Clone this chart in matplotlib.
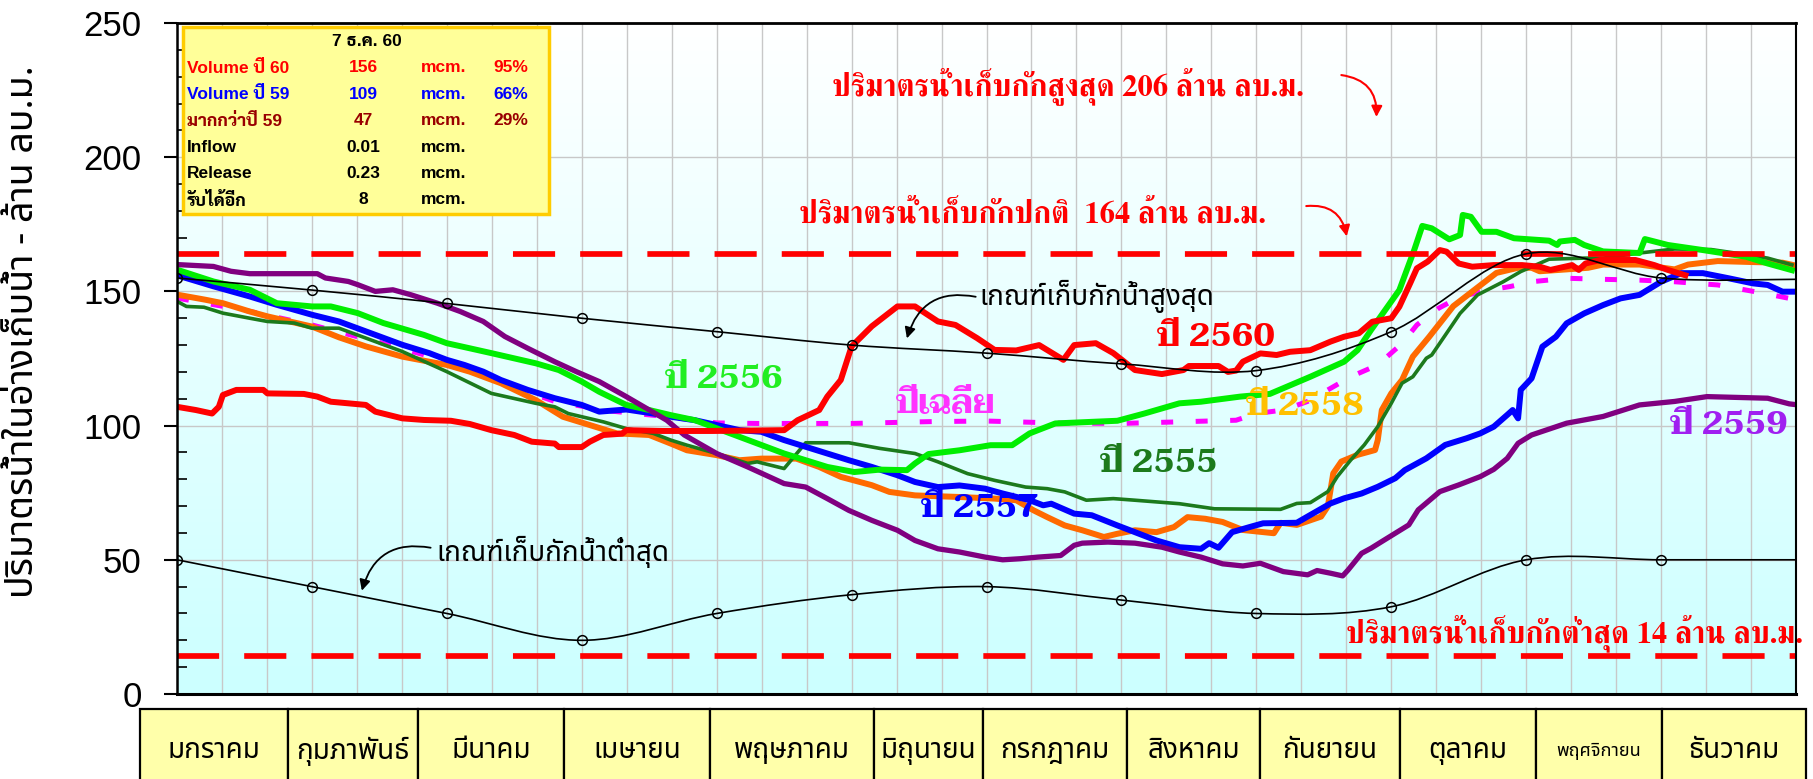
import numpy as np
import matplotlib
matplotlib.use("Agg")
import matplotlib.pyplot as plt
from matplotlib.path import Path
from matplotlib.patches import PathPatch, Rectangle
from matplotlib.colors import LinearSegmentedColormap
from matplotlib.ticker import MultipleLocator

plt.rcParams['font.family'] = ['Liberation Sans', 'Noto Sans Thai']

# x positions are in months from 1 Jan (0) to 31 Dec (12)
months = ['มกราคม', 'กุมภาพันธ์', 'มีนาคม', 'เมษายน', 'พฤษภาคม', 'มิถุนายน',
          'กรกฎาคม', 'สิงหาคม', 'กันยายน', 'ตุลาคม', 'พฤศจิกายน', 'ธันวาคม']

rule_x = list(range(13))
upper_rule = [155, 150.5, 145.5, 140, 135, 130, 127, 123, 120.5, 135, 164, 155, 154.5]
lower_rule = [50, 40, 30, 20, 30, 37, 40, 35, 30, 32.5, 50, 50, 50]

normal_level = 164
min_level = 14

x_2560 = [0, 0.14, 0.26, 0.31, 0.34, 0.44, 0.64, 0.67, 0.94, 1.04, 1.14, 1.4, 1.47, 1.67,
          1.83, 2.03, 2.17, 2.33, 2.5, 2.63, 2.8, 2.83, 3.0, 3.06, 3.16, 3.3, 3.33, 3.6,
          3.97, 4.5, 4.6, 4.76, 4.82, 4.92, 5.0, 5.15, 5.34, 5.47, 5.64, 5.77, 5.93, 6.06,
          6.22, 6.39, 6.57, 6.65, 6.81, 6.94, 7.1, 7.3, 7.46, 7.5, 7.72, 7.79, 7.85, 7.9,
          8.03, 8.15, 8.25, 8.4, 8.55, 8.65, 8.76, 8.86, 9.0, 9.06, 9.14, 9.19, 9.27, 9.36,
          9.41, 9.5, 9.6, 9.76, 9.97, 10.1, 10.18, 10.34, 10.39, 10.44, 10.55, 10.81,
          10.95, 11.05, 11.18]
y_2560 = [107, 105.8, 104.5, 107, 111.4, 113.3, 113.3, 112, 111.8, 110.8, 108.9, 107.7,
          105.2, 102.7, 102.1, 101.8, 100.6, 98.3, 96.5, 94, 93.3, 92, 92, 94, 96.5, 97,
          98.3, 98, 98, 98.3, 102, 105.8, 110.8, 117, 129.5, 137, 144.4, 144.4, 138.8,
          137.5, 132.6, 128.2, 128, 130, 124.5, 130, 130.7, 127, 120.7, 119.2, 120.7,
          122.2, 122.2, 120, 120.5, 123.8, 126.9, 126.3, 127.5, 128.1, 131.3, 133.1,
          134.4, 138.7, 140, 144.3, 153, 158.6, 161.1, 165.4, 164.8, 160.4, 159.2, 159.8,
          159.8, 159.2, 158, 159.8, 158, 160.4, 161.7, 161.7, 159.8, 158, 156]

x_2559 = [0, 0.27, 0.4, 0.54, 1.04, 1.1, 1.27, 1.34, 1.47, 1.6, 1.73, 1.93, 2.1, 2.27,
          2.43, 2.6, 2.8, 2.96, 3.13, 3.33, 3.46, 3.63, 3.76, 4.0, 4.23, 4.5, 4.66, 4.82,
          4.98, 5.15, 5.34, 5.47, 5.64, 5.8, 5.99, 6.12, 6.25, 6.38, 6.55, 6.65, 6.71,
          6.9, 7.1, 7.3, 7.43, 7.59, 7.75, 7.9, 8.03, 8.2, 8.38, 8.45, 8.55, 8.64, 8.68,
          8.78, 8.85, 8.93, 9.03, 9.13, 9.2, 9.36, 9.5, 9.66, 9.76, 9.86, 9.94, 10.04,
          10.3, 10.57, 10.84, 11.1, 11.34, 11.79, 11.95, 12.0]
y_2559 = [160, 159.3, 157.5, 156.6, 156.6, 155, 153.7, 152.5, 150, 150.6, 148.8, 145.6,
          142.5, 138.8, 133.2, 128.8, 123.8, 120.1, 116.4, 110.8, 107, 102, 96.5, 89.6,
          84.6, 78.4, 77.1, 72.8, 68.4, 64.7, 61, 57.2, 54.1, 52.9, 51, 50, 50.4, 51,
          51.6, 55.4, 56.2, 56.6, 56.2, 54.7, 52.9, 51, 48.5, 47.7, 48.7, 45.6, 44.4, 46,
          45, 44, 46.2, 52.4, 54.3, 56.8, 59.9, 63, 68.6, 75.4, 77.9, 81, 83.7, 87.8,
          93.4, 96.5, 100.9, 103.4, 107.7, 109, 110.8, 110.2, 108.1, 107.8]

x_2558 = [0, 0.21, 0.34, 0.54, 0.67, 1.0, 1.2, 1.4, 1.67, 1.87, 2.0, 2.17, 2.4, 2.66,
          2.86, 3.06, 3.26, 3.5, 3.66, 3.78, 4.0, 4.17, 4.33, 4.59, 4.76, 4.92, 5.15,
          5.28, 5.47, 5.8, 6.06, 6.22, 6.35, 6.45, 6.58, 6.71, 6.87, 6.97, 7.1, 7.26,
          7.39, 7.49, 7.62, 7.75, 7.9, 8.13, 8.18, 8.3, 8.48, 8.53, 8.57, 8.63, 8.75,
          8.88, 8.9, 8.93, 9.0, 9.08, 9.16, 9.28, 9.46, 9.62, 9.78, 9.94, 10.04, 10.1,
          10.3, 10.46, 10.57, 10.84, 11.1, 11.2, 11.42, 11.7, 11.9, 12.0]
y_2558 = [148.8, 146.9, 145.6, 142.5, 140.7, 136.9, 132.9, 129.5, 125.7, 123.8, 122.6,
          120.1, 115.8, 109.5, 103.3, 100.2, 97.1, 96.5, 93.3, 90.8, 89, 87.1, 87.7,
          87.7, 84.6, 80.9, 77.8, 75.3, 74, 73.4, 72.8, 72.2, 68.4, 65.9, 62.8, 61, 58.5,
          59.7, 61, 60.3, 62.2, 65.9, 65.3, 64.1, 61.1, 59.9, 63.8, 63, 66.1, 69.9, 82.2,
          86.6, 89.1, 90.9, 94.6, 105.8, 112, 117, 125.7, 133, 144.5, 150.7, 156.9,
          158.8, 158.8, 157.5, 158.2, 158.8, 160, 160, 158.2, 160, 161.3, 160.9, 160.7,
          159.6]

x_2557 = [0, 0.27, 0.54, 0.74, 1.0, 1.2, 1.4, 1.67, 1.87, 2.0, 2.13, 2.27, 2.4, 2.6, 2.8,
          3.0, 3.13, 3.33, 3.53, 3.66, 3.84, 4.17, 4.33, 4.5, 4.66, 4.82, 4.98, 5.15,
          5.34, 5.47, 5.64, 5.8, 5.99, 6.12, 6.32, 6.42, 6.48, 6.65, 6.78, 6.97, 7.1,
          7.26, 7.43, 7.59, 7.65, 7.72, 7.82, 7.95, 8.05, 8.3, 8.4, 8.55, 8.65, 8.78, 8.9,
          9.03, 9.1, 9.26, 9.4, 9.56, 9.66, 9.76, 9.86, 9.9, 9.94, 9.96, 10.04, 10.12,
          10.22, 10.3, 10.43, 10.57, 10.7, 10.84, 11.0, 11.15, 11.31, 11.5, 11.68, 11.79,
          11.9, 12.0]
y_2557 = [156, 151.9, 148.1, 145, 141.3, 138.8, 135.1, 130.1, 127, 124.5, 122.6, 120.1,
          117, 113.3, 110.2, 107.7, 105.2, 106, 104.5, 103.3, 102, 98.3, 97.7, 94.6,
          92.1, 89.6, 87.1, 84.6, 81.5, 79, 77.1, 77.7, 76.5, 74.7, 72.2, 70.3, 70.9,
          67.2, 66.6, 62.8, 60.3, 57.2, 54.7, 54.1, 56.2, 54.5, 60.3, 62.2, 63.6, 63.8,
          66.7, 71, 72.9, 74.7, 77.2, 80.4, 83.4, 87.8, 92.8, 95.3, 97.1, 99.6, 104,
          105.8, 102.7, 113.3, 117.6, 129.4, 133.1, 138.1, 141.8, 144.9, 147.4, 148.7,
          153.6, 156.8, 156.8, 154.9, 153, 152.4, 149.9, 149.9]

x_2556 = [0, 0.27, 0.54, 0.74, 1.0, 1.14, 1.34, 1.53, 1.83, 2.0, 2.17, 2.33, 2.66, 2.83,
          3.0, 3.13, 3.33, 3.5, 3.66, 3.84, 4.17, 4.5, 4.82, 5.02, 5.21, 5.41, 5.47,
          5.57, 5.8, 6.03, 6.19, 6.32, 6.51, 6.78, 6.97, 7.17, 7.43, 7.59, 7.88, 8.1,
          8.4, 8.65, 8.75, 8.85, 9.06, 9.17, 9.23, 9.3, 9.43, 9.51, 9.53, 9.59, 9.67,
          9.78, 9.91, 10.17, 10.23, 10.25, 10.36, 10.43, 10.57, 10.84, 10.88, 11.05,
          11.31, 11.63, 11.79, 11.97]
y_2556 = [158.1, 153.7, 150.6, 145.6, 144.4, 144.4, 141.9, 138.2, 133.8, 130.7, 128.8,
          127, 123.2, 120.7, 116.4, 112.6, 107.7, 105.8, 103.9, 102, 95.8, 89.6, 84.6,
          82.7, 83.6, 83.4, 85.9, 89.4, 90.8, 92.7, 92.7, 97.1, 100.8, 101.4, 101.8,
          104.5, 108.3, 108.9, 110.8, 111.8, 118.2, 123.8, 128.1, 135.6, 150.5, 165.4,
          174.4, 173.5, 169.4, 171, 178.5, 177.8, 172.2, 172.2, 169.8, 168.9, 167.3,
          168.6, 169.2, 167.3, 164.9, 164.3, 169.5, 167.3, 165.4, 162.9, 160.4, 157.9]

x_2555 = [0, 0.07, 0.2, 0.34, 0.54, 0.67, 0.87, 1.0, 1.2, 1.4, 1.67, 2.0, 2.33, 2.66, 2.8,
          2.9, 3.0, 3.16, 3.33, 3.53, 3.66, 3.78, 4.0, 4.23, 4.3, 4.5, 4.66, 4.98, 5.21,
          5.47, 5.64, 5.86, 6.06, 6.29, 6.45, 6.58, 6.74, 6.94, 7.1, 7.43, 7.69, 8.18,
          8.3, 8.4, 8.53, 8.6, 8.7, 8.8, 8.9, 9.0, 9.08, 9.16, 9.26, 9.3, 9.41, 9.51,
          9.64, 9.83, 9.96, 10.17, 10.43, 10.57, 10.84, 11.1, 11.37, 11.63, 11.79, 11.97]
y_2555 = [146.3, 144.4, 144.1, 141.9, 140, 138.8, 138.2, 136.3, 136.3, 132.6, 127.6,
          120.1, 112, 108.3, 107, 104.5, 103.3, 101.4, 98.9, 97.1, 94.6, 92.7, 89.6,
          85.9, 86.5, 84, 93.6, 93.6, 91.5, 89.6, 86.5, 82.1, 79.6, 77.1, 76.5, 75.3,
          72.2, 72.8, 72.2, 70.9, 69, 68.8, 71, 71.3, 75.4, 81, 87.2, 92.8, 99.6, 108.3,
          115.8, 118.2, 125.1, 126.3, 134.4, 141.8, 148.7, 153.6, 157.4, 162, 162.4,
          162.4, 164.3, 165.8, 165.6, 163.7, 162.4, 159.9]

x_avg = [0, 0.5, 1.0, 1.5, 2.0, 2.4, 2.8, 3.2, 3.6, 4.0, 4.3, 5.0, 5.6, 6.0, 6.5, 7.0,
         7.5, 7.85, 8.0, 8.2, 8.38, 8.53, 8.7, 8.9, 9.08, 9.19, 9.35, 9.51, 9.72, 9.88,
         10.04, 10.3, 10.57, 10.84, 11.1, 11.42, 11.63, 11.76, 11.95]
y_avg = [147.5, 143, 137.5, 131, 124, 116, 109, 105.5, 103.5, 101, 100.8, 100.8, 101.5,
         101.7, 101, 100.8, 101.5, 102, 104.5, 105.8, 109, 113.3, 118.2, 122.6, 130.6,
         137.5, 143.7, 148, 150.5, 151.8, 153.6, 154.9, 154.5, 154.2, 153.6, 152.4,
         150.5, 149.3, 147.4]

info_date = '7 ธ.ค. 60'
info_rows = [
    ('Volume ปี 60', '156', 'mcm.', '95%', '#ff0000'),
    ('Volume ปี 59', '109', 'mcm.', '66%', '#0000ff'),
    ('มากกว่าปี 59', '47', 'mcm.', '29%', '#990000'),
    ('Inflow', '0.01', 'mcm.', '', 'black'),
    ('Release', '0.23', 'mcm.', '', 'black'),
    ('รับได้อีก', '8', 'mcm.', '', 'black'),
]


def smooth_path(xs, ys):
    # cubic Bezier through every point, tangents taken from the neighbours
    pts = np.column_stack([xs, ys]).astype(float)
    n = len(pts)
    verts = [pts[0]]
    codes = [Path.MOVETO]
    for i in range(n - 1):
        p0 = pts[max(i - 1, 0)]
        p1 = pts[i]
        p2 = pts[i + 1]
        p3 = pts[min(i + 2, n - 1)]
        verts += [p1 + (p2 - p0) / 6, p2 - (p3 - p1) / 6, p2]
        codes += [Path.CURVE4] * 3
    return Path(verts, codes)


W, H = 1813, 779
fig = plt.figure(figsize=(W / 100, H / 100), dpi=100)
ax = fig.add_axes([177 / W, 1 - 694 / H, (1796 - 177) / W, (694 - 23) / H])

# pale cyan backdrop fading to white at the top
bg = LinearSegmentedColormap.from_list('bg', ['#ccffff', '#ffffff'])
ax.imshow(np.linspace(0, 1, 256).reshape(-1, 1), cmap=bg, origin='lower',
          extent=[0, 12, 0, 250], aspect='auto', zorder=0)

ax.set_xlim(0, 12)
ax.set_ylim(0, 250)
ax.set_xticks(np.arange(37) / 3)
ax.tick_params(axis='x', length=0, labelbottom=False)
ax.set_yticks(range(0, 251, 50))
ax.yaxis.set_minor_locator(MultipleLocator(10))
ax.tick_params(axis='y', which='major', direction='out', length=9.5, width=1.5,
               labelsize=25, pad=16)
ax.tick_params(axis='y', which='minor', direction='in', length=7, width=1.2)
ax.grid(True, axis='both', which='major', color='#c8c8c8', lw=1, zorder=1)
ax.set_axisbelow(True)
for side, w in [('left', 1.8), ('bottom', 2.2), ('top', 2.0), ('right', 1.5)]:
    ax.spines[side].set_linewidth(w)
    ax.spines[side].set_zorder(20)

# storage series
ax.plot(x_avg, y_avg, color='#ff00ff', lw=3.6, ls=(0, (2.4, 4.5)), zorder=2)
ax.plot(x_2558, y_2558, color='#ff6a00', lw=4.3, zorder=3)
ax.plot(x_2555, y_2555, color='#1c7a1c', lw=2.6, zorder=4)
ax.plot(x_2557, y_2557, color='#0000ff', lw=4.3, zorder=4)
ax.plot(x_2556, y_2556, color='#00ee00', lw=4.3, zorder=4)
ax.plot(x_2559, y_2559, color='#800080', lw=3.8, zorder=5)
ax.plot(x_2560, y_2560, color='#ff0000', lw=4.3, zorder=6)

# normal and minimum storage levels
for lvl in (normal_level, min_level):
    ax.axhline(lvl, color='#ff0000', lw=4.1, ls=(0, (7.4, 4.4)), zorder=7)

# rule curves with monthly markers
for vals in (upper_rule, lower_rule):
    ax.add_patch(PathPatch(smooth_path(rule_x, vals), fc='none', ec='black',
                           lw=1.2, zorder=8))
    ax.plot(rule_x[:-1], vals[:-1], ls='none', marker='o', ms=7, mfc='none',
            mec='black', mew=1.1, zorder=9)

# series labels
serif = ['Taviraj', 'FreeSerif']
labels = [('ปี 2556', 4.05, 117, '#22ee22'), ('ปีเฉลี่ย', 5.7, 108, '#ff33ff'),
          ('ปี 2560', 7.7, 133, '#ff0000'), ('ปี 2555', 7.28, 86, '#1c7a1c'),
          ('ปี 2557', 5.95, 69, '#0000ff'), ('ปี 2558', 8.36, 107, '#ffc000'),
          ('ปี 2559', 11.5, 100, '#a020f0')]
for txt, xm, yv, col in labels:
    ax.text(xm, yv, txt, color=col, fontsize=24, fontweight='bold',
            family=serif, ha='center', va='center', zorder=12)

# capacity notes
red_font = ['FreeSerif', 'Taviraj']
ax.text(6.6, 223, 'ปริมาตรน้ำเก็บกักสูงสุด 206 ล้าน ลบ.ม.', color='#ff0000',
        fontsize=22, fontweight='bold', family=red_font, ha='center', va='baseline',
        zorder=12)
ax.text(6.34, 175.5, 'ปริมาตรน้ำเก็บกักปกติ  164 ล้าน ลบ.ม.', color='#ff0000',
        fontsize=22, fontweight='bold', family=red_font, ha='center', va='baseline',
        zorder=12)
ax.text(12.05, 19.4, 'ปริมาตรน้ำเก็บกักต่ำสุด 14 ล้าน ลบ.ม.', color='#ff0000',
        fontsize=22, fontweight='bold', family=red_font, ha='right', va='baseline',
        zorder=12, clip_on=False)
for start, end in [((8.63, 230.6), (8.89, 215)), ((8.37, 181.8), (8.67, 170.5))]:
    ax.annotate('', xy=end, xytext=start, zorder=12,
                arrowprops=dict(arrowstyle='-|>', color='#ff0000', lw=1.5,
                                mutation_scale=16, shrinkA=0, shrinkB=0,
                                connectionstyle='arc3,rad=-0.45'))

# rule curve notes
thai_sans = ['Noto Sans Thai', 'DejaVu Sans']
ax.text(5.95, 148, 'เกณฑ์เก็บกักน้ำสูงสุด', fontsize=20, family=thai_sans,
        ha='left', va='center', zorder=12)
ax.text(1.92, 53, 'เกณฑ์เก็บกักน้ำต่ำสุด', fontsize=20, family=thai_sans,
        ha='left', va='center', zorder=12)
for start, end in [((5.92, 148), (5.41, 132.5)), ((1.88, 54.5), (1.37, 38.5))]:
    ax.annotate('', xy=end, xytext=start, zorder=12,
                arrowprops=dict(arrowstyle='-|>', color='black', lw=1.3,
                                mutation_scale=16, shrinkA=0, shrinkB=0,
                                connectionstyle='arc3,rad=0.45'))

ax.set_ylabel('ปริมาตรน้ำในอ่างเก็บน้ำ - ล้าน ลบ.ม.', fontsize=27,
              family=thai_sans)
ax.yaxis.set_label_coords(42 / W, 1 - 332 / H, transform=fig.transFigure)

# info box
fig.patches.append(Rectangle((183 / W, 1 - 214 / H), (549 - 183) / W, (214 - 27) / H,
                             transform=fig.transFigure, fc='#ffff99', ec='#ffcc00',
                             lw=2.5, zorder=30))
box_font = ['Liberation Sans', 'Sarabun']
fig.text(367 / W, 1 - 42 / H, info_date, fontsize=12.5, fontweight='heavy',
         family=box_font, ha='center', va='center', zorder=31)
for i, (lab, val, unit, pct, col) in enumerate(info_rows):
    yy = 1 - (68 + i * 26.4) / H
    kw = dict(fontsize=12.5, fontweight='heavy', family=box_font, color=col,
              va='center', zorder=31)
    fig.text(187 / W, yy, lab, ha='left', **kw)
    fig.text(363 / W, yy, val, ha='center', **kw)
    fig.text(421 / W, yy, unit, ha='left', **kw)
    fig.text(511 / W, yy, pct, ha='center', **kw)

# month table under the axis
edges = [140, 288, 418, 564, 710, 874, 983, 1127, 1260, 1400, 1536, 1662, 1806]
for i, name in enumerate(months):
    x0, x1 = edges[i], edges[i + 1]
    fig.patches.append(Rectangle((x0 / W, -0.05), (x1 - x0) / W, 0.05 + (779 - 709) / H,
                                 transform=fig.transFigure, fc='#ffffaa', ec='black',
                                 lw=1.6))
    fig.text((x0 + x1) / 2 / W, 1 - 751 / H, name, fontsize=13 if i == 10 else 20,
             family=thai_sans, ha='center', va='center')

fig.savefig('out.png', dpi=100)
